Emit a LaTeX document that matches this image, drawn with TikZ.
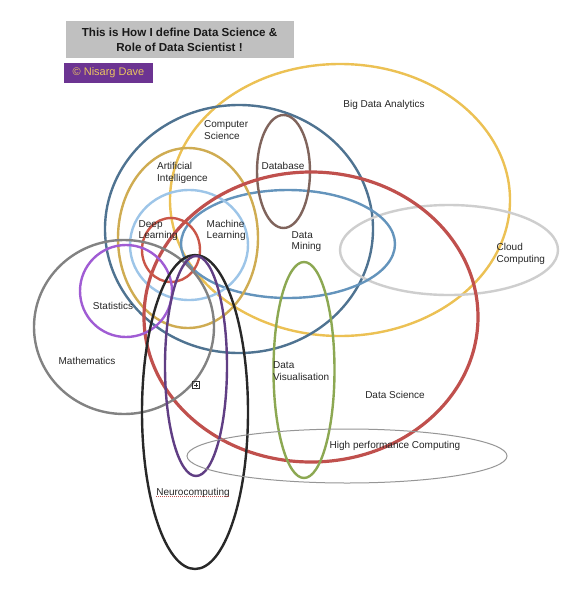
\documentclass[tikz,border=0pt]{standalone}
\usepackage{fontspec}
\setmainfont{Liberation Sans}
\begin{document}
\begin{tikzpicture}[x=1pt,y=-1pt,
  lbl/.style={font=\fontsize{10}{11.8}\selectfont, text=black!85, inner sep=0pt, align=left},
  ring/.style={line width=2.4pt},
  thinring/.style={line width=1pt}]
\definecolor{bigdata}{RGB}{236,193,84}
\definecolor{compsci}{RGB}{79,115,145}
\definecolor{dsred}{RGB}{192,80,77}
\definecolor{dbbrown}{RGB}{128,100,92}
\definecolor{dmblue}{RGB}{100,148,188}
\definecolor{cloudg}{RGB}{206,206,206}
\definecolor{aigold}{RGB}{207,172,82}
\definecolor{mlblue}{RGB}{157,197,232}
\definecolor{dlred}{RGB}{202,86,72}
\definecolor{statp}{RGB}{160,92,212}
\definecolor{mathg}{RGB}{130,130,130}
\definecolor{neurob}{RGB}{40,40,40}
\definecolor{dpurp}{RGB}{96,62,132}
\definecolor{visg}{RGB}{140,168,82}
\definecolor{hpcg}{RGB}{150,150,150}
\definecolor{titlebg}{RGB}{192,192,192}
\definecolor{authbg}{RGB}{108,52,146}
\definecolor{authtx}{RGB}{234,196,96}

\useasboundingbox (0,0) rectangle (588,592);
\fill[white] (0,0) rectangle (588,592);

% title
\node[draw=black!25, fill=titlebg, minimum width=227pt, minimum height=36pt, inner sep=0pt,
  font=\bfseries\fontsize{11.6}{15}\selectfont, align=center, text=black!90] (title) at (179.5,39.5)
  {This is How I define Data Science \&\\Role of Data Scientist !};
\node[fill=authbg, minimum width=89pt, minimum height=20pt, inner sep=0pt,
  font=\fontsize{11}{12}\selectfont, text=authtx] (author) at (108.5,73) {\textcopyright{} Nisarg Dave};

% ellipses
\draw[ring, bigdata] (340,200) ellipse [x radius=170, y radius=136];
\draw[ring, compsci] (239,229) ellipse [x radius=134, y radius=124];
\draw[ring, cloudg] (449,250) ellipse [x radius=109, y radius=45];
\draw[ring, dmblue] (288,244) ellipse [x radius=107, y radius=54];
\draw[ring, dbbrown] (283.5,171.5) ellipse [x radius=26.5, y radius=56.5];
\draw[ring, aigold] (188,238) ellipse [x radius=70, y radius=90];
\draw[ring, mlblue] (189,245) ellipse [x radius=59, y radius=55];
\draw[line width=3.2pt, dsred] (311,317) ellipse [x radius=167, y radius=145];
\draw[ring, dlred] (171,250) ellipse [x radius=29, y radius=32];
\draw[ring, mathg] (124,327) ellipse [x radius=90, y radius=87];
\draw[ring, statp] (126,291) ellipse [x radius=46, y radius=46];
\draw[ring, neurob] (195,412) ellipse [x radius=53, y radius=157];
\draw[ring, dpurp] (196,366) ellipse [x radius=31, y radius=110];
\draw[ring, visg] (304,370) ellipse [x radius=30.5, y radius=108];
\draw[thinring, hpcg] (347,456) ellipse [x radius=160, y radius=27];

% labels
\node[lbl] (bda) at (384,105) {Big Data Analytics};
\node[lbl, anchor=west] (cs) at (204,130) {Computer\\Science};
\node[lbl] (db) at (283,166) {Database};
\node[lbl, anchor=west] (ai) at (157,173) {Artificial\\Intelligence};
\node[lbl, anchor=west] (dl) at (138.5,230.5) {Deep\\Learning};
\node[lbl, anchor=west] (ml) at (206.5,230.5) {Machine\\Learning};
\node[lbl, anchor=west] (dm) at (291.5,241.5) {Data\\Mining};
\node[lbl, anchor=west] (cc) at (496.5,254) {Cloud\\Computing};
\node[lbl] (st) at (113,306) {Statistics};
\node[lbl] (ma) at (87,361) {Mathematics};
\node[lbl, anchor=west] (dv) at (273,371) {Data\\Visualisation};
\node[lbl] (ds) at (395,395) {Data Science};
\node[lbl] (hpc) at (395,446) {High performance Computing};
\node[lbl] (nc) at (193,493) {Neurocomputing};
\draw[dsred, line width=0.9pt, dash pattern=on 1pt off 1pt]
  ([yshift=1.6pt]nc.south west) -- ([yshift=1.6pt]nc.south east);

% small expand box
\node[draw=black!80, line width=0.6pt, minimum size=7pt, inner sep=0pt] (plusbox) at (196,385) {};
\draw[black!80, line width=0.6pt] ([yshift=-1.8pt]plusbox.center) -- ([yshift=1.8pt]plusbox.center)
  ([xshift=-1.8pt]plusbox.center) -- ([xshift=1.8pt]plusbox.center);
\end{tikzpicture}
\end{document}
